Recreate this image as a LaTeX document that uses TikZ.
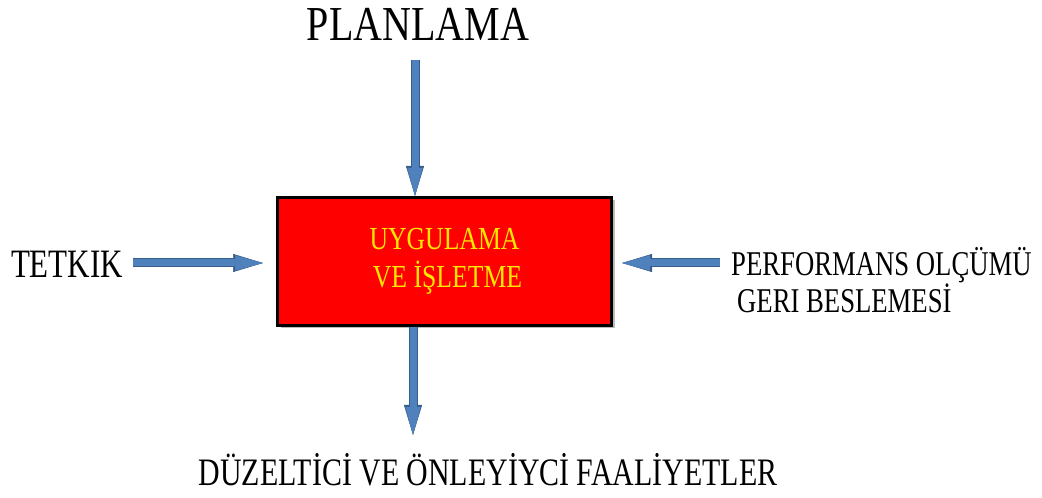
\documentclass[tikz,border=0pt]{standalone}
\usepackage{fontspec}
\setmainfont{Liberation Serif}
\usetikzlibrary{arrows.meta,shadows,calc}
\definecolor{arrowblue}{HTML}{4F81BD}
\definecolor{arrowdark}{HTML}{385D8A}
\definecolor{boxred}{HTML}{FF0000}
\definecolor{boxtext}{HTML}{FFE800}
\newcommand{\tall}[2][1.3]{\scalebox{1}[#1]{#2}}
\begin{document}
\begin{tikzpicture}[x=1pt,y=1pt,
  flow/.style={line width=7pt, draw=arrowblue,
    -{Triangle[width=15pt,length=28pt,line width=0.5pt]},
    preaction={draw=arrowdark, line width=9pt,
      -{Triangle[width=18pt,length=30pt,line width=0.5pt]}}},
  label text/.style={inner sep=0pt, text=black},
  mainbox/.style={draw=black, line width=3pt, fill=boxred,
    minimum width=334pt, minimum height=128pt,
    drop shadow={shadow xshift=3pt, shadow yshift=-3pt, opacity=0.45, fill=black!60},
    text=boxtext, align=center, font=\fontsize{25.7}{38}\selectfont}]
\useasboundingbox (0,0) rectangle (1042,498);
\node[label text, font=\fontsize{40}{40}\selectfont] (plan) at (418,474) {\tall[1.22]{PLANLAMA}};
\node[mainbox] (box) at (444.5,236.5) {\tall[1.25]{UYGULAMA}\\[0pt]\hspace*{6pt}\tall[1.25]{VE İŞLETME}};
\node[label text, font=\fontsize{31}{31}\selectfont] (tet) at (67,234) {\tall{TETKIK}};
\node[label text, anchor=west, align=left, font=\fontsize{26.7}{35}\selectfont] (perf) at (731,217.5)
  {\tall{PERFORMANS OLÇÜMÜ}\\\hspace*{6pt}\tall{GERI BESLEMESİ}};
\node[label text, font=\fontsize{29.9}{30}\selectfont] (duz) at (488,28) {\tall{DÜZELTİCİ VE ÖNLEYİYCİ FAALİYETLER}};
\coordinate (ptop) at (415,438);
\coordinate (pleft) at (133,235);
\coordinate (pright) at (720,235);
\coordinate (pbot) at (413,63);
\draw[flow] (ptop) -- (ptop |- box.north);
\draw[flow, shorten >=13pt] (pleft) -- (pleft -| box.west);
\draw[flow, shorten >=9pt] (pright) -- (pright -| box.east);
\draw[flow] (pbot |- box.south) -- (pbot);
\end{tikzpicture}
\end{document}
